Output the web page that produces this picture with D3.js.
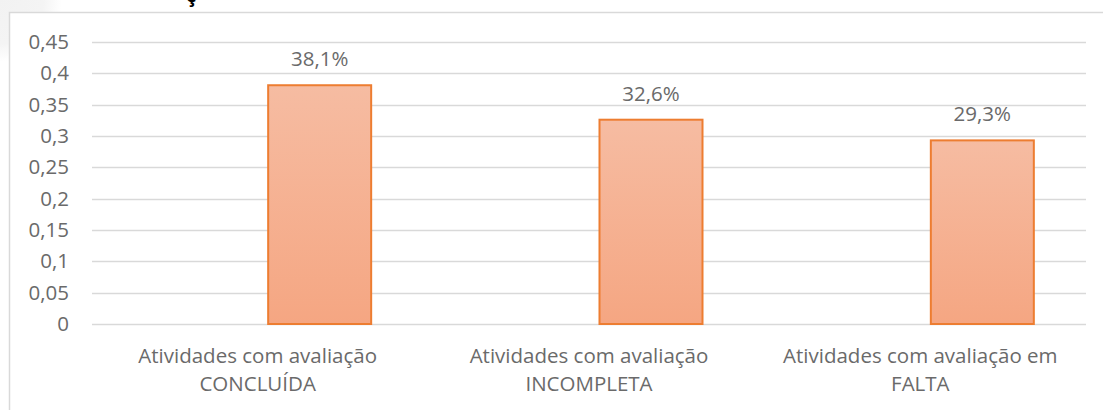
<!DOCTYPE html>
<html>
<head>
<meta charset="utf-8">
<script src="https://cdn.jsdelivr.net/npm/d3@7"></script>
<style>
  body { margin: 0; background: #fff; }
  svg { display: block; font-family: "Open Sans", "Noto Sans", sans-serif; }
</style>
</head>
<body>
<svg id="canvas" width="1103" height="410"></svg>
<script>
// categories (two lines each) and values
var categories = ["CONCLUÍDA", "INCOMPLETA", "FALTA"];
var labelLine1 = ["Atividades com avaliação", "Atividades com avaliação", "Atividades com avaliação em"];
var labelLine2 = ["CONCLUÍDA", "INCOMPLETA", "FALTA"];
var values = [0.381, 0.326, 0.293];
var valueLabels = ["38,1%", "32,6%", "29,3%"];
var yTicks = [0, 0.05, 0.1, 0.15, 0.2, 0.25, 0.3, 0.35, 0.4, 0.45];

var svg = d3.select("#canvas");
var fs = 20.5;
var textCol = "#6a6a6a";

// grey shade in the corner and the frame
var defs = svg.append("defs");
var rg = defs.append("radialGradient").attr("id", "corner")
  .attr("cx", 0).attr("cy", 0).attr("r", 1);
rg.append("stop").attr("offset", "0%").attr("stop-color", "#f2f2f2");
rg.append("stop").attr("offset", "70%").attr("stop-color", "#f4f4f4");
rg.append("stop").attr("offset", "100%").attr("stop-color", "#fff");
svg.append("rect").attr("x", 0).attr("y", 0).attr("width", 62).attr("height", 62)
  .attr("fill", "url(#corner)");

svg.append("rect").attr("x", 9.5).attr("y", 12.5).attr("width", 1200).attr("height", 500)
  .attr("fill", "#fff").attr("stroke", "#d9d9d9").attr("stroke-width", 1.5);

// tail of the cut off title
svg.append("text").attr("x", 186).attr("y", 2).attr("font-size", 20).attr("font-weight", "bold")
  .attr("fill", "#000").text("ç");

var left = 92, right = 1086;
var y = d3.scaleLinear().domain([0, 0.45]).range([324, 42]);
var x = d3.scaleBand().domain(categories).range([left, right]);

var grad = defs.append("linearGradient").attr("id", "barFill")
  .attr("x1", 0).attr("y1", 0).attr("x2", 0).attr("y2", 1);
grad.append("stop").attr("offset", "0%").attr("stop-color", "#f6bca2");
grad.append("stop").attr("offset", "100%").attr("stop-color", "#f5a682");

// gridlines
svg.append("g").selectAll("line").data(yTicks).enter().append("line")
  .attr("x1", left).attr("x2", right)
  .attr("y1", function(d) { return Math.round(y(d)) + 0.5; })
  .attr("y2", function(d) { return Math.round(y(d)) + 0.5; })
  .attr("stroke", "#d9d9d9").attr("stroke-width", 1.5);

// y axis labels
var yAxis = d3.axisLeft(y).tickValues(yTicks).tickSize(0).tickPadding(0)
  .tickFormat(function(d) { return d3.format("")(d).replace(".", ","); });
var ya = svg.append("g").attr("transform", "translate(69,0)").call(yAxis);
ya.select(".domain").remove();
ya.selectAll("text").attr("font-size", fs).attr("fill", textCol)
  .attr("font-family", "Open Sans, sans-serif");

// bars (offset to the right half of each category)
var barW = 103, offset = 62;
svg.append("g").selectAll("rect").data(values).enter().append("rect")
  .attr("x", function(d, i) { return x(categories[i]) + x.bandwidth() / 2 + offset - barW / 2; })
  .attr("y", function(d) { return y(d); })
  .attr("width", barW)
  .attr("height", function(d) { return y(0) - y(d); })
  .attr("fill", "url(#barFill)")
  .attr("stroke", "#ed7d31").attr("stroke-width", 2);

// value labels
svg.append("g").selectAll("text").data(values).enter().append("text")
  .attr("x", function(d, i) { return x(categories[i]) + x.bandwidth() / 2 + offset; })
  .attr("y", function(d) { return y(d) - 19; })
  .attr("text-anchor", "middle").attr("font-size", fs).attr("fill", textCol)
  .text(function(d, i) { return valueLabels[i]; });

// category labels
var cl = svg.append("g").selectAll("text").data(categories).enter().append("text")
  .attr("text-anchor", "middle").attr("font-size", fs).attr("fill", textCol);
cl.append("tspan")
  .attr("x", function(d) { return x(d) + x.bandwidth() / 2; })
  .attr("y", 363)
  .text(function(d, i) { return labelLine1[i]; });
cl.append("tspan")
  .attr("x", function(d) { return x(d) + x.bandwidth() / 2; })
  .attr("y", 391)
  .text(function(d, i) { return labelLine2[i]; });
</script>
</body>
</html>
